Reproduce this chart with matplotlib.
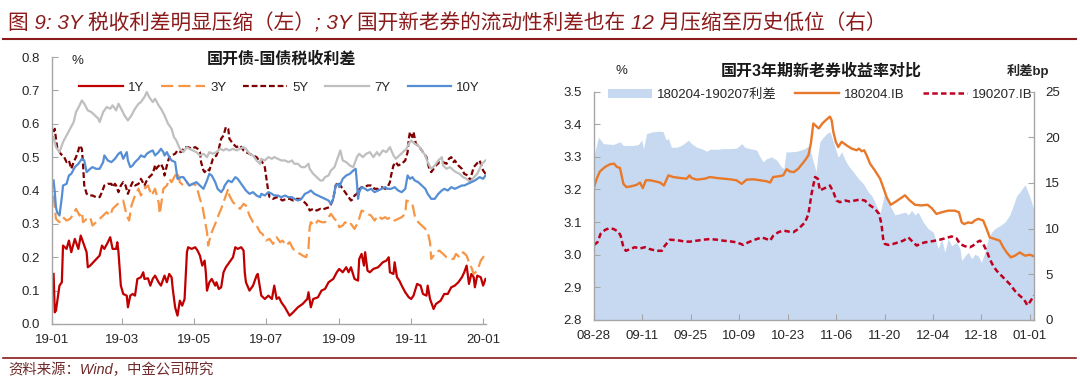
import matplotlib
matplotlib.use('Agg')
import matplotlib.pyplot as plt
import matplotlib.dates as mdates
from matplotlib.lines import Line2D
from matplotlib.patches import Patch
from matplotlib.ticker import FormatStrFormatter
import pandas as pd

plt.rcParams['font.family'] = ['Liberation Sans', 'Noto Sans CJK SC']
plt.rcParams['axes.unicode_minus'] = False

# ---- left chart: 国开债-国债税收利差 (%), days counted from 2019-01-01 ----
days_1y = [1, 2, 3, 6, 8, 9, 12, 14, 16, 19, 22, 24, 27, 29, 30, 32, 36, 40, 42, 44,
           47, 49, 51, 54, 55, 56, 58, 60, 63, 64, 66, 68, 70, 72, 75, 77, 78, 81, 83, 85,
           87, 90, 92, 95, 97, 99, 101, 102, 104, 106, 108, 110, 112, 114, 115, 118, 121, 123, 125, 127,
           129, 130, 131, 133, 135, 138, 139, 141, 143, 145, 147, 150, 153, 155, 157, 160, 162, 163, 164, 167,
           170, 173, 174, 177, 180, 183, 186, 188, 190, 192, 194, 197, 201, 204, 208, 212, 216, 217, 219, 221,
           225, 228, 231, 234, 238, 241, 243, 246, 249, 251, 253, 256, 259, 260, 262, 264, 265, 267, 269, 272,
           276, 280, 283, 285, 286, 289, 290, 292, 294, 296, 299, 302, 304, 306, 309, 312, 314, 317, 318, 320,
           323, 325, 329, 332, 335, 338, 341, 344, 347, 349, 351, 353, 355, 357, 358, 360, 363, 365, 367]
val_1y = [0.15, 0.035, 0.04, 0.115, 0.125, 0.235, 0.225, 0.25, 0.215, 0.255, 0.225, 0.265, 0.235, 0.215, 0.17, 0.175, 0.19, 0.205, 0.235, 0.225,
          0.245, 0.26, 0.225, 0.225, 0.245, 0.215, 0.115, 0.09, 0.085, 0.05, 0.085, 0.09, 0.085, 0.135, 0.14, 0.155, 0.135, 0.137, 0.115, 0.135,
          0.145, 0.125, 0.115, 0.145, 0.125, 0.15, 0.14, 0.105, 0.05, 0.025, 0.07, 0.055, 0.075, 0.215, 0.23, 0.225, 0.23, 0.22, 0.205, 0.175,
          0.19, 0.155, 0.10, 0.125, 0.135, 0.115, 0.125, 0.105, 0.11, 0.155, 0.17, 0.185, 0.20, 0.23, 0.225, 0.23, 0.22, 0.155, 0.125, 0.10,
          0.115, 0.145, 0.15, 0.085, 0.075, 0.085, 0.075, 0.115, 0.075, 0.08, 0.065, 0.05, 0.025, 0.035, 0.05, 0.06, 0.075, 0.095, 0.05, 0.075,
          0.08, 0.10, 0.105, 0.125, 0.135, 0.155, 0.165, 0.155, 0.17, 0.155, 0.17, 0.135, 0.13, 0.195, 0.21, 0.175, 0.215, 0.16, 0.155, 0.165,
          0.17, 0.185, 0.19, 0.20, 0.155, 0.15, 0.185, 0.14, 0.13, 0.115, 0.095, 0.08, 0.075, 0.085, 0.12, 0.115, 0.09, 0.085, 0.115, 0.075,
          0.045, 0.06, 0.07, 0.09, 0.09, 0.11, 0.115, 0.125, 0.14, 0.155, 0.175, 0.12, 0.15, 0.14, 0.11, 0.145, 0.14, 0.115, 0.135]

days_3y = [1, 3, 6, 9, 12, 15, 18, 20, 23, 25, 26, 29, 32, 34, 37, 40, 43, 46, 49, 51,
           54, 57, 60, 63, 65, 67, 70, 73, 75, 78, 81, 84, 87, 90, 91, 94, 97, 99, 101, 104,
           106, 108, 111, 114, 116, 119, 122, 125, 127, 129, 131, 132, 133, 135, 138, 140, 143, 146, 149, 150,
           153, 156, 159, 162, 164, 167, 170, 173, 176, 178, 181, 184, 187, 190, 193, 195, 198, 201, 204,
           207, 210, 212, 215, 217, 218, 219, 222, 225, 228, 231, 234, 236, 239, 242, 243, 246, 248, 251, 253,
           256, 259, 262, 265, 267, 270, 273, 276, 279, 282, 284, 287, 290, 293, 296, 299, 300, 303, 305, 307,
           310, 313, 316, 318, 320, 321, 323, 325, 328, 331, 334, 337, 340, 342, 345, 348, 351, 354, 355, 357,
           360, 363, 367]
val_3y = [0.385, 0.315, 0.305, 0.32, 0.31, 0.315, 0.33, 0.345, 0.325, 0.335, 0.305, 0.315, 0.32, 0.295, 0.305, 0.315, 0.325, 0.335, 0.325, 0.345,
          0.355, 0.365, 0.37, 0.325, 0.31, 0.355, 0.385, 0.405, 0.385, 0.405, 0.415, 0.385, 0.405, 0.365, 0.33, 0.405, 0.415, 0.435, 0.425, 0.445,
          0.455, 0.425, 0.415, 0.425, 0.415, 0.42, 0.415, 0.375, 0.355, 0.315, 0.275, 0.235, 0.25, 0.275, 0.30, 0.32, 0.345, 0.375, 0.405, 0.385,
          0.365, 0.355, 0.345, 0.36, 0.355, 0.325, 0.305, 0.295, 0.275, 0.27, 0.25, 0.255, 0.24, 0.26, 0.245, 0.25, 0.235, 0.245, 0.225,
          0.215, 0.21, 0.205, 0.20, 0.225, 0.29, 0.305, 0.295, 0.31, 0.305, 0.305, 0.32, 0.33, 0.315, 0.305, 0.29, 0.295, 0.305, 0.295, 0.30,
          0.285, 0.305, 0.34, 0.335, 0.33, 0.325, 0.31, 0.325, 0.315, 0.32, 0.315, 0.32, 0.31, 0.315, 0.32, 0.33, 0.37, 0.365, 0.36, 0.325,
          0.305, 0.295, 0.285, 0.275, 0.245, 0.195, 0.205, 0.215, 0.22, 0.21, 0.20, 0.195, 0.195, 0.21, 0.20, 0.215, 0.205, 0.175, 0.17, 0.15,
          0.16, 0.19, 0.21]

days_5y = [1, 2, 3, 4, 7, 10, 12, 14, 16, 18, 20, 22, 23, 25, 26, 27, 29, 32, 34, 37,
           40, 42, 44, 47, 50, 51, 53, 54, 56, 58, 60, 62, 64, 66, 68, 70, 73, 75, 78, 80,
           82, 85, 87, 88, 89, 92, 94, 95, 97, 99, 101, 104, 106, 109, 112, 115, 118, 121, 123, 125,
           126, 128, 129, 131, 133, 136, 139, 141, 143, 145, 147, 149, 150, 152, 153, 156, 159, 162, 164, 167,
           170, 173, 176, 177, 180, 181, 183, 184, 187, 190, 193, 195, 198, 201, 204, 207, 210, 212, 215, 217,
           218, 221, 224, 227, 229, 232, 235, 238, 240, 242, 244, 246, 248, 251, 253, 255, 256, 258, 259, 262,
           265, 267, 270, 273, 276, 279, 282, 284, 286, 287, 289, 291, 293, 296, 299, 301, 302, 303, 305, 306,
           308, 311, 314, 317, 319, 321, 323, 325, 328, 331, 334, 336, 338, 340, 341, 344, 347, 349, 352, 354,
           355, 357, 362, 365, 367]
val_5y = [0.575, 0.585, 0.555, 0.53, 0.51, 0.50, 0.485, 0.49, 0.465, 0.485, 0.50, 0.52, 0.535, 0.525, 0.475, 0.415, 0.39, 0.385, 0.385, 0.38,
          0.38, 0.395, 0.415, 0.42, 0.42, 0.41, 0.42, 0.415, 0.395, 0.415, 0.425, 0.415, 0.39, 0.41, 0.425, 0.415, 0.42, 0.435, 0.415, 0.43,
          0.44, 0.45, 0.475, 0.465, 0.47, 0.48, 0.465, 0.445, 0.475, 0.50, 0.505, 0.51, 0.52, 0.515, 0.53, 0.53, 0.525, 0.53, 0.525, 0.515,
          0.485, 0.46, 0.455, 0.465, 0.46, 0.495, 0.505, 0.525, 0.555, 0.565, 0.59, 0.585, 0.555, 0.545, 0.54, 0.53, 0.535, 0.52, 0.515, 0.51,
          0.505, 0.50, 0.485, 0.49, 0.47, 0.445, 0.395, 0.38, 0.375, 0.38, 0.375, 0.37, 0.375, 0.375, 0.37, 0.375, 0.375, 0.37, 0.36, 0.35,
          0.34, 0.345, 0.34, 0.345, 0.343, 0.347, 0.35, 0.375, 0.415, 0.425, 0.415, 0.405, 0.395, 0.38, 0.37, 0.375, 0.385, 0.39, 0.40, 0.41,
          0.41, 0.415, 0.415, 0.405, 0.405, 0.41, 0.405, 0.41, 0.425, 0.445, 0.475, 0.485, 0.475, 0.48, 0.49, 0.515, 0.555, 0.575, 0.56, 0.575,
          0.54, 0.53, 0.515, 0.50, 0.47, 0.455, 0.465, 0.475, 0.485, 0.485, 0.48, 0.495, 0.50, 0.485, 0.49, 0.475, 0.465, 0.45, 0.445, 0.43,
          0.445, 0.47, 0.49, 0.46, 0.45]

days_7y = [1, 3, 6, 9, 12, 15, 18, 20, 23, 25, 27, 30, 33, 36, 39, 40, 43, 46, 49, 51,
           54, 56, 59, 61, 64, 67, 70, 73, 75, 78, 80, 82, 85, 87, 90, 92, 95, 98, 101, 103,
           105, 108, 111, 114, 116, 119, 122, 125, 128, 131, 133, 136, 139, 142, 145, 147, 150, 153, 156, 159,
           162, 164, 167, 170, 173, 176, 177, 180, 183, 186, 188, 191, 194, 197, 200, 203, 205, 208, 211, 214,
           217, 218, 221, 224, 227, 229, 231, 234, 236, 239, 242, 244, 246, 249, 252, 255, 258, 260, 263, 266,
           269, 272, 275, 277, 280, 283, 286, 289, 291, 294, 297, 300, 302, 304, 307, 310, 313, 316, 318, 321,
           324, 327, 330, 331, 334, 337, 340, 342, 345, 348, 351, 354, 356, 360, 364, 367]
val_7y = [0.56, 0.53, 0.515, 0.545, 0.565, 0.585, 0.605, 0.635, 0.655, 0.67, 0.66, 0.64, 0.635, 0.625, 0.615, 0.605, 0.635, 0.65, 0.645, 0.655,
          0.64, 0.66, 0.64, 0.625, 0.61, 0.625, 0.645, 0.66, 0.665, 0.68, 0.695, 0.68, 0.665, 0.675, 0.655, 0.645, 0.625, 0.60, 0.585, 0.56,
          0.55, 0.525, 0.515, 0.53, 0.525, 0.52, 0.515, 0.505, 0.51, 0.50, 0.515, 0.51, 0.515, 0.525, 0.52, 0.525, 0.52, 0.525, 0.52, 0.525,
          0.53, 0.525, 0.51, 0.505, 0.49, 0.48, 0.495, 0.49, 0.50, 0.495, 0.50, 0.495, 0.49, 0.49, 0.485, 0.49, 0.48, 0.48, 0.47, 0.47,
          0.48, 0.465, 0.45, 0.44, 0.43, 0.43, 0.44, 0.445, 0.46, 0.47, 0.50, 0.52, 0.49, 0.485, 0.475, 0.47, 0.50, 0.51, 0.50, 0.51,
          0.515, 0.50, 0.515, 0.505, 0.52, 0.515, 0.53, 0.505, 0.495, 0.505, 0.515, 0.525, 0.54, 0.55, 0.54, 0.535, 0.52, 0.505, 0.485, 0.465,
          0.475, 0.49, 0.50, 0.475, 0.465, 0.47, 0.46, 0.455, 0.45, 0.44, 0.435, 0.425, 0.435, 0.45, 0.48, 0.49]

days_10y = [1, 2, 3, 4, 6, 8, 9, 12, 14, 16, 19, 22, 25, 27, 29, 32, 34, 37, 40, 43,
            44, 47, 50, 53, 56, 58, 60, 63, 64, 66, 68, 70, 73, 75, 78, 80, 82, 85, 87, 90,
            92, 94, 95, 97, 99, 101, 104, 105, 106, 109, 111, 114, 116, 119, 122, 125, 128, 131, 133, 135,
            138, 140, 143, 145, 146, 149, 152, 155, 157, 159, 162, 164, 167, 170, 173, 176, 177, 180, 183, 186,
            188, 191, 194, 197, 200, 203, 205, 208, 211, 214, 217, 219, 222, 225, 228, 231, 234, 236, 238, 240,
            242, 243, 246, 249, 252, 255, 257, 258, 259, 260, 262, 265, 267, 270, 273, 276, 279, 282, 284, 287,
            290, 293, 296, 299, 301, 303, 305, 307, 310, 313, 316, 318, 321, 324, 327, 330, 332, 335, 338, 341,
            344, 347, 349, 352, 355, 358, 362, 365, 367]
val_10y = [0.43, 0.395, 0.35, 0.335, 0.325, 0.38, 0.415, 0.42, 0.445, 0.45, 0.47, 0.48, 0.495, 0.49, 0.455, 0.465, 0.47, 0.465, 0.465, 0.485,
           0.505, 0.49, 0.485, 0.495, 0.51, 0.515, 0.495, 0.515, 0.49, 0.47, 0.475, 0.485, 0.495, 0.505, 0.50, 0.51, 0.515, 0.52, 0.505, 0.515,
           0.525, 0.515, 0.505, 0.515, 0.50, 0.49, 0.485, 0.46, 0.435, 0.44, 0.44, 0.425, 0.415, 0.42, 0.425, 0.415, 0.405, 0.43, 0.45, 0.445,
           0.425, 0.405, 0.395, 0.405, 0.415, 0.43, 0.425, 0.44, 0.435, 0.425, 0.41, 0.40, 0.39, 0.395, 0.385, 0.38, 0.39, 0.385, 0.395, 0.39,
           0.385, 0.385, 0.38, 0.385, 0.38, 0.38, 0.375, 0.37, 0.375, 0.39, 0.395, 0.40, 0.39, 0.385, 0.38, 0.375, 0.37, 0.36, 0.375, 0.415,
           0.42, 0.41, 0.435, 0.445, 0.45, 0.46, 0.465, 0.425, 0.375, 0.395, 0.41, 0.405, 0.40, 0.405, 0.395, 0.40, 0.405, 0.41, 0.405, 0.405,
           0.41, 0.40, 0.395, 0.405, 0.445, 0.435, 0.44, 0.43, 0.425, 0.415, 0.405, 0.39, 0.375, 0.375, 0.39, 0.40, 0.405, 0.40, 0.41, 0.405,
           0.41, 0.415, 0.415, 0.42, 0.425, 0.43, 0.44, 0.435, 0.445]

left_labels = ['1Y', '3Y', '5Y', '7Y', '10Y']

# ---- right chart: 国开3年期新老券, days counted from 2019-08-28 ----
days_old = [0, 0.8, 1.7, 3.2, 4.6, 5.8, 6.6, 7.5, 8.5, 9.4, 10.9, 12.3, 13.3, 14.1, 15.0, 16.2, 17.6, 19.1, 20.2, 21.5,
            22.9, 24.9, 26.8, 27.6, 28.2, 29.7, 32.1, 33.5, 35.5, 37.4, 39.3, 41.2, 42.7, 44.1, 46.1, 48.0, 49.9, 50.9, 51.8, 53.3,
            54.7, 55.7, 56.6, 57.8, 59.1, 61.0, 62.0, 62.7, 63.4, 64.4, 65.0, 66.0, 67.0, 68.2, 68.7, 69.2,
            69.9, 70.6, 71.6, 73.0, 74.5, 75.9, 76.6, 77.4, 78.1, 78.8, 79.8, 81.2, 82.7, 83.6, 84.6, 85.8, 87.0, 88.4, 89.9, 91.3,
            92.8, 94.7, 96.4, 97.6, 99.0, 100.5, 102.4, 104.3, 105.5, 106.3, 107.0, 108.2, 109.2, 110.1, 111.1, 112.5, 113.5, 114.4, 115.9, 117.3,
            118.3, 119.3, 120.5, 121.7, 123.1, 124.6, 126.0, 127.2]
yld_180204 = [3.207, 3.233, 3.255, 3.269, 3.277, 3.279, 3.269, 3.266, 3.217, 3.207, 3.21, 3.214, 3.221, 3.204, 3.228, 3.228, 3.225, 3.221, 3.212, 3.243,
              3.238, 3.235, 3.233, 3.243, 3.235, 3.23, 3.233, 3.238, 3.235, 3.233, 3.231, 3.228, 3.217, 3.23, 3.231, 3.228, 3.225, 3.221, 3.238, 3.24,
              3.243, 3.262, 3.255, 3.253, 3.264, 3.289, 3.305, 3.341, 3.402, 3.392, 3.387, 3.402, 3.412, 3.423, 3.412, 3.376,
              3.346, 3.33, 3.346, 3.335, 3.325, 3.32, 3.325, 3.317, 3.32, 3.305, 3.279, 3.258, 3.233, 3.207, 3.176, 3.153, 3.161, 3.171, 3.182, 3.166,
              3.153, 3.151, 3.153, 3.143, 3.125, 3.13, 3.135, 3.135, 3.13, 3.099, 3.094, 3.099, 3.097, 3.105, 3.11, 3.105, 3.079, 3.053, 3.048, 3.043,
              3.023, 3.007, 2.992, 2.997, 3.007, 2.997, 3.0, 2.995]

days_new = [0, 1.0, 1.9, 3.2, 4.4, 5.6, 7.0, 7.7, 8.5, 9.2, 10.4, 11.8, 13.3, 14.7, 16.2, 18.1, 19.6, 20.5, 22.0, 23.4,
            24.9, 26.3, 27.7, 29.7, 31.6, 33.5, 35.5, 37.4, 39.3, 41.2, 43.2, 44.6, 46.5, 48.5, 49.9, 50.9, 51.8, 53.3, 54.7, 56.2,
            57.6, 59.1, 60.5, 61.0, 62.0, 62.9, 63.9, 64.7, 65.3, 66.3, 67.3, 68.2, 69.2,
            70.1, 71.1, 72.6, 74.0, 75.4, 76.9, 78.3, 79.8, 81.2, 82.4, 83.1, 83.6, 84.1, 85.1, 86.5, 88.0, 89.4, 90.9, 91.8, 93.3,
            94.2, 95.7, 97.1, 98.6, 100.0, 101.4, 103.4, 104.8, 105.8, 107.2, 108.7, 109.6, 110.6, 111.6, 112.5, 113.5, 114.4, 115.4, 116.4, 117.3,
            118.8, 120.2, 121.7, 122.2, 123.1, 124.2, 125.3, 126.0, 127.2]
yld_190207 = [3.03, 3.038, 3.064, 3.076, 3.081, 3.079, 3.071, 3.058, 3.023, 3.012, 3.017, 3.023, 3.019, 3.023, 3.017, 3.012, 3.012, 3.028, 3.046, 3.045,
              3.043, 3.04, 3.04, 3.043, 3.046, 3.048, 3.046, 3.043, 3.041, 3.038, 3.03, 3.038, 3.046, 3.053, 3.048, 3.043, 3.058, 3.069, 3.074, 3.071,
              3.069, 3.079, 3.094, 3.099, 3.125, 3.187, 3.238, 3.233, 3.197, 3.202, 3.207, 3.212, 3.192,
              3.166, 3.161, 3.166, 3.163, 3.166, 3.169, 3.166, 3.151, 3.141, 3.125, 3.094, 3.048, 3.033, 3.03, 3.033, 3.038, 3.043, 3.053, 3.043, 3.028,
              3.033, 3.038, 3.04, 3.043, 3.046, 3.05, 3.056, 3.05, 3.033, 3.026, 3.023, 3.028, 3.038, 3.043, 3.033, 3.012, 2.987, 2.966, 2.951, 2.941,
              2.925, 2.91, 2.889, 2.884, 2.874, 2.865, 2.845, 2.855, 2.875]

days_spread = [0, 1.3, 2.7, 5.6, 7.5, 8.5, 11.4, 12.8, 13.8, 14.3, 15.2, 17.1, 19.1, 20.0, 20.8, 21.5, 22.4, 23.9, 25.3, 27.3,
               28.2, 29.7, 31.1, 32.6, 33.5, 35.5, 37.4, 39.3, 41.2, 42.7, 43.6, 45.1, 47.0, 48.0, 48.9, 49.9, 51.3, 52.8, 54.2, 54.9,
               55.5, 56.6, 58.6, 61.0, 62.2, 62.9, 63.7, 64.2, 64.7, 65.3, 66.3, 67.3, 68.2,
               69.2, 70.1, 70.6, 71.6, 72.6, 73.5, 75.0, 76.4, 77.9, 79.3, 80.3, 81.2, 82.2, 82.7, 84.1, 85.6, 87.0, 89.9, 90.9, 91.8,
               92.8, 93.7, 95.2, 96.6, 98.1, 99.5, 100.5, 101.4, 102.4, 103.4, 104.8, 105.8, 106.3, 107.2, 108.2, 109.2, 110.1, 111.1, 112.0, 113.0,
               114.0, 114.9, 115.9, 117.3, 118.8, 120.2, 121.2, 122.2, 123.1, 124.6, 126.0, 127.2]
spread_bp = [18.0, 20.0, 19.3, 19.2, 19.5, 19.1, 19.1, 19.2, 19.7, 18.75, 20.4, 20.6, 20.66, 20.6, 19.7, 19.85, 18.9, 18.9, 19.1, 19.67,
             19.3, 18.9, 18.75, 18.46, 18.68, 18.68, 18.75, 18.75, 18.8, 19.3, 18.9, 18.75, 18.6, 17.84, 17.3, 17.65, 17.84, 17.5, 16.74, 16.56,
             18.39, 18.39, 18.46, 18.75, 19.1, 18.0, 16.9, 16.2, 18.0, 19.5, 20.0, 20.4, 20.6,
             19.5, 18.4, 17.8, 18.4, 17.5, 16.9, 16.2, 15.5, 14.9, 14.0, 13.6, 12.9, 12.0, 11.7, 14.0, 12.5, 11.5, 11.8, 11.5, 12.0,
             11.5, 11.8, 10.7, 10.0, 9.6, 7.8, 8.9, 7.4, 8.9, 8.1, 8.5, 7.8, 6.5, 7.0, 7.4, 6.7, 7.2, 7.0, 6.3, 7.4,
             8.9, 9.6, 10.0, 10.3, 10.7, 11.5, 12.5, 13.6, 14.0, 14.8, 13.5, 12.0]

right_labels = ['180204-190207利差', '180204.IB', '190207.IB']

TEXT = '#262626'
SPINE = '#A6A6A6'
DARKRED = '#8B1A1A'


def to_dates(start, days):
    return pd.Timestamp(start) + pd.to_timedelta(days, unit='D')


def style_axis(ax):
    for s in ['top', 'right']:
        ax.spines[s].set_visible(False)
    for s in ['left', 'bottom']:
        ax.spines[s].set_color(SPINE)
        ax.spines[s].set_linewidth(1.0)
    ax.tick_params(direction='in', length=4, width=0.8, color=SPINE,
                   labelsize=9.5, labelcolor=TEXT)
    ax.tick_params(axis='x', pad=7)
    ax.tick_params(axis='y', pad=9)


fig = plt.figure(figsize=(10.8, 3.81), dpi=100)
W, H = 1080, 381

# ---- left chart ----
ax1 = fig.add_axes([52.4 / W, 1 - 324 / H, (485.5 - 52.4) / W, (324 - 57) / H])
left_series = [
    (days_1y, val_1y, '#C00000', '-'),
    (days_3y, val_3y, '#F79646', (0, (5.5, 2.3))),
    (days_5y, val_5y, '#7F0000', (0, (2.6, 1.3))),
    (days_7y, val_7y, '#BFBFBF', '-'),
    (days_10y, val_10y, '#558ED5', '-'),
]
handles_l = []
for (d, v, c, ls), lab in zip(left_series, left_labels):
    ln, = ax1.plot(to_dates('2019-01-01', d), v, color=c, lw=1.6, ls=ls, label=lab)
    handles_l.append(ln)
ax1.set_xlim(pd.Timestamp('2019-01-01'), pd.Timestamp('2020-01-03'))
ax1.set_ylim(0, 0.8)
ax1.set_yticks([i / 10 for i in range(9)])
ax1.yaxis.set_major_formatter(FormatStrFormatter('%.1f'))
ax1.xaxis.set_major_locator(mdates.MonthLocator(bymonth=[1, 3, 5, 7, 9, 11]))
ax1.xaxis.set_major_formatter(mdates.DateFormatter('%y-%m'))
style_axis(ax1)

fig.legend(handles=handles_l, labels=left_labels, loc='center left',
           bbox_to_anchor=(79 / W, 1 - 88 / H), ncol=5, frameon=False,
           fontsize=9.5, handlelength=3.3, handletextpad=0.4, columnspacing=1.3,
           borderpad=0, borderaxespad=0, labelcolor=TEXT)

fig.text(281 / W, 1 - 58.5 / H, '国开债-国债税收利差', ha='center', va='center',
         fontsize=11.5, fontweight='bold', color='#1a1a1a')
fig.text(77.5 / W, 1 - 61 / H, '%', ha='center', va='center', fontsize=9.5, color=TEXT)

# ---- right chart ----
ax2 = fig.add_axes([594 / W, 1 - 320 / H, (1034 - 594) / W, (320 - 91.5) / H])
ax3 = ax2.twinx()
area = ax3.fill_between(to_dates('2019-08-28', days_spread), 0, spread_bp,
                        color='#C6D9F1', lw=0)
ax2.set_zorder(ax3.get_zorder() + 1)
ax2.patch.set_visible(False)
ln_old, = ax2.plot(to_dates('2019-08-28', days_old), yld_180204, color='#E8782A', lw=1.7)
ln_new, = ax2.plot(to_dates('2019-08-28', days_new), yld_190207, color='#C00020', lw=1.8,
                   ls=(0, (2.2, 1.3)))
ax2.set_xlim(pd.Timestamp('2019-08-28'), pd.Timestamp('2019-08-28') + pd.Timedelta(days=127.2))
ax2.set_ylim(2.8, 3.5)
ax2.set_yticks([2.8 + i / 10 for i in range(8)])
ax2.yaxis.set_major_formatter(FormatStrFormatter('%.1f'))
ax2.set_xticks(pd.date_range('2019-08-28', periods=10, freq='14D'))
ax2.xaxis.set_major_formatter(mdates.DateFormatter('%m-%d'))
style_axis(ax2)

ax3.set_ylim(0, 25)
ax3.set_yticks(range(0, 26, 5))
for s in ['top', 'left', 'bottom']:
    ax3.spines[s].set_visible(False)
ax3.spines['right'].set_color(SPINE)
ax3.spines['right'].set_linewidth(1.0)
ax3.tick_params(direction='in', length=4, width=0.8, color=SPINE,
                labelsize=9.5, labelcolor=TEXT, pad=8)

handles_r = [Patch(facecolor='#C6D9F1', edgecolor='none'), ln_old, ln_new]
fig.legend(handles=handles_r, labels=right_labels, loc='center left',
           bbox_to_anchor=(608 / W, 1 - 95 / H), ncol=3, frameon=False,
           fontsize=9.5, handlelength=3.3, handletextpad=0.4, columnspacing=1.4,
           borderpad=0, borderaxespad=0, labelcolor=TEXT)

fig.text(821 / W, 1 - 70.6 / H, '国开3年期新老券收益率对比', ha='center', va='center',
         fontsize=11.5, fontweight='bold', color='#1a1a1a')
fig.text(621.6 / W, 1 - 70.6 / H, '%', ha='center', va='center', fontsize=9.5, color=TEXT)
fig.text(1028 / W, 1 - 70.6 / H, '利差bp', ha='center', va='center', fontsize=9.5,
         fontweight='bold', color=TEXT)

# ---- header / footer ----
fig.text(8 / W, 1 - 23 / H,
         '图 9: 3Y 税收利差明显压缩（左）; 3Y 国开新老券的流动性利差也在 12 月压缩至历史低位（右）',
         ha='left', va='center', fontsize=14.9, style='italic', color=DARKRED)
fig.add_artist(Line2D([3 / W, 1076 / W], [1 - 38.5 / H, 1 - 38.5 / H], color=DARKRED, lw=1.5))
fig.add_artist(Line2D([3 / W, 1076 / W], [1 - 358 / H, 1 - 358 / H], color=DARKRED, lw=1.2))
fig.text(8 / W, 1 - 370 / H, '资料来源：Wind，中金公司研究', ha='left', va='center',
         fontsize=10.4, style='italic', color='#6E2A2A')

fig.savefig('out.png', dpi=100)
plt.close(fig)
